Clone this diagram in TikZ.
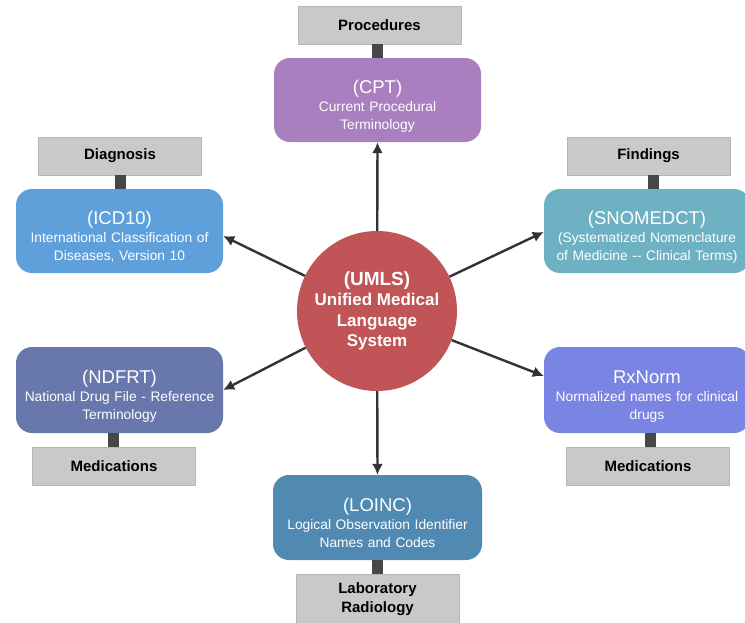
\documentclass[tikz,border=0pt]{standalone}
\usepackage{fontspec}
\setmainfont{Liberation Sans}
\usetikzlibrary{arrows.meta}
\definecolor{cptcol}{HTML}{A97FC0}
\definecolor{icdcol}{HTML}{5FA0DA}
\definecolor{snocol}{HTML}{6EB1C2}
\definecolor{ndfcol}{HTML}{6878AC}
\definecolor{rxncol}{HTML}{7A84E2}
\definecolor{loicol}{HTML}{5089B1}
\definecolor{umlscol}{HTML}{C05456}
\definecolor{tagfill}{HTML}{C9C9C9}
\definecolor{tagline}{HTML}{B5B5B5}
\definecolor{linkcol}{HTML}{333333}
\tikzset{
  term/.style={rounded corners=16pt, minimum width=207pt, minimum height=84pt,
    text width=204pt, align=center, text=white, inner sep=0pt,
    font=\fontsize{13.8}{18}\selectfont},
  tag/.style={fill=tagfill, draw=tagline, line width=0.6pt, minimum width=163pt,
    minimum height=38pt, inner sep=0pt, align=center,
    font=\bfseries\fontsize{15}{19}\selectfont},
  stem/.style={fill=linkcol!90!white, minimum width=11pt, minimum height=14pt, inner sep=0pt},
  link/.style={draw=linkcol, line width=2.4pt, -{Latex[length=11pt,width=11pt]}},
}
% title line of a terminology box, with a taller strut to sit the text lower
\newcommand{\ttl}[1]{{\fontsize{18.5}{21}\selectfont\rule{0pt}{25pt}#1}\\}
\begin{document}
\begin{tikzpicture}[x=1pt,y=-1pt]
\useasboundingbox[fill=white] (0,0) rectangle (745,622);

% central concept
\node[circle, fill=umlscol, minimum size=160pt, inner sep=0pt, text=white,
  align=center, font=\bfseries\fontsize{17}{20.5}\selectfont] (umls) at (377,311)
  {{\fontsize{19}{23}\selectfont (UMLS)}\\Unified Medical\\Language\\System};

% terminologies
\node[term, fill=cptcol] (cpt) at (377.5,100) {\ttl{(CPT)}Current Procedural\\Terminology};
\node[term, fill=icdcol] (icd) at (119.5,231) {\ttl{(ICD10)}International Classification of\\Diseases, Version 10};
\node[term, fill=snocol, minimum width=206pt] (sno) at (647,231) {\ttl{(SNOMEDCT)}(Systematized Nomenclature\\of Medicine -{}- Clinical Terms)};
\node[term, fill=ndfcol, minimum height=86pt] (ndf) at (119.5,390) {\ttl{(NDFRT)}National Drug File - Reference\\Terminology};
\node[term, fill=rxncol, minimum width=206pt, minimum height=86pt] (rxn) at (647,390) {\ttl{RxNorm}Normalized names for clinical\\drugs};
\node[term, fill=loicol, minimum width=209pt, minimum height=85pt] (loi) at (377.5,517.5) {\ttl{(LOINC)}Logical Observation Identifier\\Names and Codes};

% category tags
\node[tag] (tproc) at (379.5,25) {Procedures};
\node[tag] (tdiag) at (120,156) {Diagnosis};
\node[tag] (tfind) at (648.5,156) {Findings};
\node[tag] (tmed1) at (114,466) {Medications};
\node[tag] (tmed2) at (648,466) {Medications};
\node[tag, minimum height=52pt, text depth=0pt] (tlab) at (377.5,600) {\\[-14pt]Laboratory\\Radiology};

% stems joining tags to terminologies
\node[stem] (s1) at (377.5,51) {};
\node[stem] (s2) at (120,182) {};
\node[stem] (s3) at (653,182) {};
\node[stem] (s4) at (113,440) {};
\node[stem] (s5) at (650,440) {};
\node[stem] (s6) at (377.5,567) {};

% links from the centre
\draw[link] (umls) -- (cpt.south);
\draw[link] (umls) -- (icd.east |- 0,236);
\draw[link] (umls) -- (sno.west |- 0,232);
\draw[link] (umls) -- (ndf.east |- 0,390);
\draw[link] (umls) -- (rxn.west |- 0,376);
\draw[link] (umls) -- (loi.north);
\end{tikzpicture}
\end{document}
